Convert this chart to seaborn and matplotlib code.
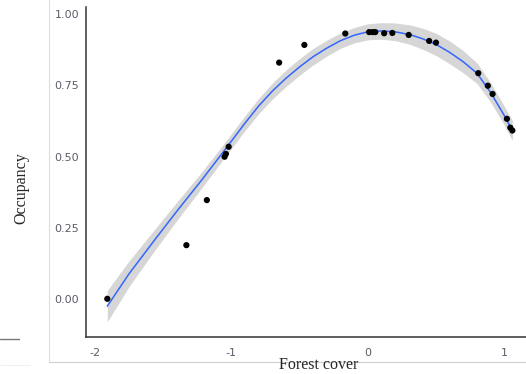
import matplotlib
matplotlib.use("Agg")
import matplotlib.pyplot as plt
import seaborn as sns
import numpy as np
import pandas as pd
from matplotlib.lines import Line2D

# forest cover (scaled) vs occupancy
forest_cover = [-1.91, -1.33, -1.18, -1.05, -1.04, -1.02, -0.65, -0.465,
                -0.165, 0.01, 0.035, 0.055, 0.12, 0.18, 0.30, 0.45, 0.50,
                0.81, 0.88, 0.915, 1.02, 1.045, 1.06]
occupancy = [0.002, 0.19, 0.348, 0.50, 0.51, 0.535, 0.83, 0.892,
             0.932, 0.937, 0.937, 0.937, 0.933, 0.934, 0.927, 0.906, 0.90,
             0.793, 0.749, 0.72, 0.633, 0.602, 0.592]

# loess smooth and its 95% band half-width
smooth_x = [-1.91, -1.75, -1.56, -1.39, -1.215, -1.05, -0.9, -0.8, -0.7,
            -0.6, -0.5, -0.4, -0.3, -0.2, -0.1, 0.0, 0.1, 0.2, 0.31, 0.4,
            0.5, 0.6, 0.7, 0.8, 0.9, 1.0, 1.06]
smooth_y = [-0.024, 0.09, 0.21, 0.315, 0.42, 0.523, 0.618, 0.678, 0.73,
            0.775, 0.815, 0.851, 0.881, 0.907, 0.926, 0.938, 0.941, 0.938,
            0.928, 0.914, 0.894, 0.866, 0.833, 0.793, 0.726, 0.645, 0.592]
smooth_ci = [0.055, 0.045, 0.037, 0.032, 0.028, 0.026, 0.026, 0.027, 0.028,
             0.029, 0.029, 0.029, 0.028, 0.027, 0.027, 0.028, 0.029, 0.031,
             0.034, 0.037, 0.039, 0.040, 0.039, 0.036, 0.034, 0.033, 0.035]

x_ticks = [-2, -1, 0, 1]
y_ticks = [0.00, 0.25, 0.50, 0.75, 1.00]

df = pd.DataFrame({"forest": forest_cover, "occ": occupancy})
smooth = pd.DataFrame({"forest": smooth_x, "occ": smooth_y, "ci": smooth_ci})

sns.set_style("white")
fig = plt.figure(figsize=(5.26, 3.74), dpi=100)
ax = fig.add_axes([0.1635, 0.0997, 0.8365, 0.8816])

ax.fill_between(smooth["forest"], smooth["occ"] - smooth["ci"],
                smooth["occ"] + smooth["ci"], color="#999999", alpha=0.4, lw=0)
sns.lineplot(data=smooth, x="forest", y="occ", color="#3366FF", lw=1.1,
             ax=ax)
sns.scatterplot(data=df, x="forest", y="occ", color="black", s=20,
                edgecolor="none", ax=ax, zorder=3)

ax.set_xlim(-2.066, 1.16)
ax.set_ylim(-0.131, 1.025)
ax.set_xticks(x_ticks)
ax.set_xticklabels(["-2", "-1", "0", "1"])
ax.set_yticks(y_ticks)
ax.set_yticklabels(["0.00", "0.25", "0.50", "0.75", "1.00"])
ax.set_xlabel("")
ax.set_ylabel("")
ax.tick_params(axis="both", length=3, width=0.8, color="#444444",
               labelsize=8, labelcolor="#5b5b6b", pad=2, direction="out")
ax.tick_params(axis="x", pad=5)
sns.despine(ax=ax)
for sp in ("left", "bottom"):
    ax.spines[sp].set_color("#333333")
    ax.spines[sp].set_linewidth(1.1)

fig.text(0.605, 0.024, "Forest cover", family="Liberation Serif",
         fontsize=11.5, ha="center", va="center")
fig.text(0.040, 0.497, "Occupancy", family="Liberation Serif",
         fontsize=11.5, ha="center", va="center", rotation=90)

# light frame and stray line from the source screenshot
fig.add_artist(Line2D([49 / 526, 49 / 526], [1.0, 12 / 374], lw=0.8,
                      color="#dddddd"))
fig.add_artist(Line2D([49 / 526, 1.0], [12 / 374, 12 / 374], lw=0.8,
                      color="#d0d0d0"))
fig.add_artist(Line2D([0, 19 / 526], [35 / 374, 35 / 374], lw=1.0,
                      color="#777777"))
fig.add_artist(Line2D([0, 30 / 526], [9 / 374, 9 / 374], lw=0.6,
                      color="#eeeeee"))

fig.savefig("out.png", dpi=100)
